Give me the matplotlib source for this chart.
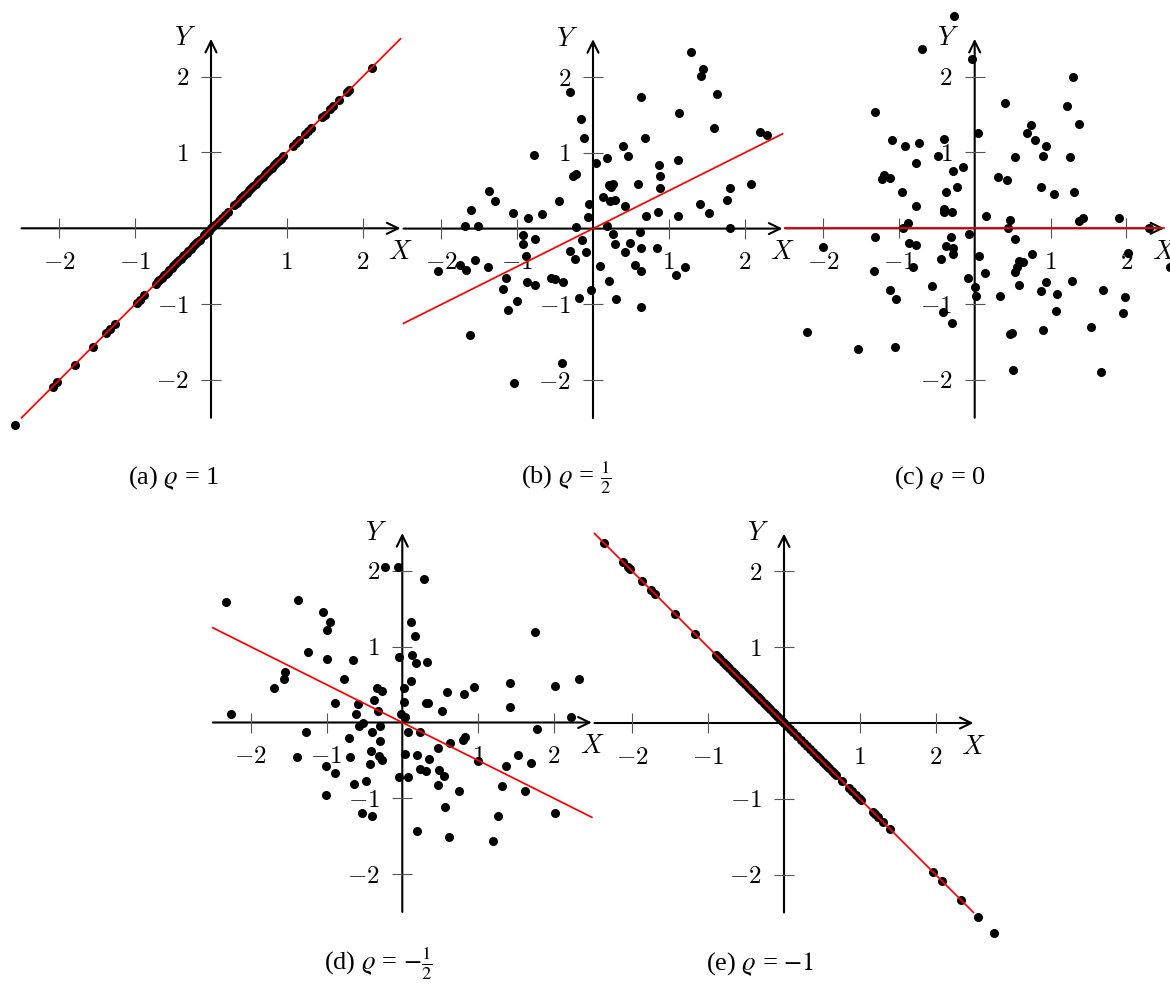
import matplotlib
matplotlib.use('Agg')
import matplotlib.pyplot as plt
import numpy as np

plt.rcParams['mathtext.fontset'] = 'cm'
plt.rcParams['font.family'] = ['Liberation Serif', 'DejaVu Serif']

# ---------------- data ----------------
rho_values = [1.0, 0.5, 0.0, -0.5, -1.0]
captions = [r'(a) $\varrho$ = 1', r'(b) $\varrho$ = $\frac{1}{2}$', r'(c) $\varrho$ = 0',
            r'(d) $\varrho$ = $-\frac{1}{2}$', r'(e) $\varrho$ = $-1$']
tick_values = [-2, -1, 1, 2]
tick_labels = [r'$-2$', r'$-1$', r'$1$', r'$2$']

a_x = [-2.59, -2.09, -2.03, -1.80, -1.56, -1.38, -1.33, -1.26, -0.98, -0.94, -0.88,
       -0.73, -0.70, -0.68, -0.65, -0.62, -0.60, -0.57, -0.55, -0.52, -0.50, -0.47, -0.45,
       -0.42, -0.40, -0.37, -0.35, -0.32, -0.30, -0.27, -0.24, -0.21, -0.18, -0.15,
       -0.09, -0.06, -0.03, 0.00, 0.03, 0.06, 0.10, 0.14, 0.18, 0.22,
       0.31, 0.34, 0.38, 0.41, 0.44, 0.47, 0.50, 0.53, 0.56, 0.59, 0.62, 0.65, 0.68,
       0.71, 0.74, 0.77, 0.80, 0.83, 0.86, 0.89, 0.92, 0.95,
       1.08, 1.12, 1.16, 1.24, 1.28, 1.32, 1.47, 1.50, 1.57, 1.61, 1.69, 1.80, 1.82, 2.12]
a_y = [-2.59, -2.09, -2.03, -1.80, -1.56, -1.38, -1.33, -1.26, -0.98, -0.94, -0.88,
       -0.73, -0.70, -0.68, -0.65, -0.62, -0.60, -0.57, -0.55, -0.52, -0.50, -0.47, -0.45,
       -0.42, -0.40, -0.37, -0.35, -0.32, -0.30, -0.27, -0.24, -0.21, -0.18, -0.15,
       -0.09, -0.06, -0.03, 0.00, 0.03, 0.06, 0.10, 0.14, 0.18, 0.22,
       0.31, 0.34, 0.38, 0.41, 0.44, 0.47, 0.50, 0.53, 0.56, 0.59, 0.62, 0.65, 0.68,
       0.71, 0.74, 0.77, 0.80, 0.83, 0.86, 0.89, 0.92, 0.95,
       1.08, 1.12, 1.16, 1.24, 1.28, 1.32, 1.47, 1.50, 1.57, 1.61, 1.69, 1.80, 1.82, 2.12]

b_x = [-0.31, -0.16, -0.12, -0.78, 0.04, -0.26, -0.22, -1.37, -1.29, -0.45, -0.05, -1.61,
       -1.06, -0.86, -0.67, -0.07, -1.69, -1.52, -0.22, -0.93, -0.92, -0.76, -0.14, -0.31,
       -0.09, -0.89, -0.24, 0.09, -2.05, -1.75, -1.68, -1.56, -1.38, -1.15, -1.19, -1.12,
       -1.00, -0.87, -0.77, -0.55, -0.50, -0.40, -0.18, -0.02, -1.62, -0.41, -1.04,
       1.29, 1.45, 1.43, 1.63, 0.63, 1.13, 1.60, 0.68, 2.20, 2.29, 0.39, 0.46, 0.19, 1.12,
       0.87, 0.885, 0.885, 0.60, 0.21, 0.27, 0.24, 0.13, 0.22, 0.29, 0.42, 1.81, 2.08, 1.77,
       1.41, 1.53, 0.86, 0.70, 1.12, 1.81, 0.19, 0.26, 0.62, 0.29, 0.49, 0.42, 0.63, 0.84,
       0.55, 0.63, 1.21, 1.09, 0.21, 0.31, 0.63]
b_y = [1.80, 1.45, 1.19, 0.97, 0.87, 0.70, 0.72, 0.49, 0.37, 0.37, 0.33, 0.25,
       0.20, 0.14, 0.19, 0.15, 0.03, 0.04, 0.02, -0.08, -0.20, -0.14, -0.15, -0.30,
       -0.31, -0.36, -0.40, -0.49, -0.56, -0.48, -0.55, -0.42, -0.51, -0.65, -0.80, -1.07,
       -0.95, -0.71, -0.75, -0.65, -0.67, -0.71, -0.91, -0.81, -1.41, -1.77, -2.04,
       2.33, 2.11, 2.01, 1.78, 1.73, 1.53, 1.33, 1.19, 1.27, 1.23, 1.09, 0.96, 0.93, 0.90,
       0.84, 0.69, 0.53, 0.59, 0.57, 0.59, 0.55, 0.42, 0.37, 0.38, 0.30, 0.54, 0.59, 0.38,
       0.33, 0.21, 0.22, 0.16, 0.16, 0.01, 0.04, -0.07, -0.05, -0.20, -0.19, -0.31, -0.26, -0.26,
       -0.48, -0.56, -0.50, -0.61, -0.69, -0.93, -1.03]

c_x = [-0.27, -0.69, -0.04, -1.32, 0.04, -1.09, -0.92, -0.73, -0.41, -0.48, -0.78, -0.16,
       -0.29, -1.20, -1.22, -1.12, -0.23, -0.38, -0.96, -0.78, -0.41, -0.41, -0.30, -0.88,
       -0.94, -1.31, -0.87, -0.77, -0.31, -0.08, -0.38, -0.28, -0.28, -0.44, -0.82, -2.00,
       -1.33, 0.06, -0.09, 0.00, 0.02, -1.12, -1.04, -0.56, -0.42, -0.30, -2.21, -1.54, -1.05,
       1.30, 0.40, 1.22, 1.37, 0.74, 0.69, 0.80, 0.94, 0.90, 0.53, 1.26, 0.31, 0.42, 0.87,
       1.05, 1.31, 0.15, 0.47, 0.44, 1.37, 1.43, 1.90, 2.30, 2.57, 0.53, 0.75, 0.58, 0.64,
       0.56, 0.53, 0.13, 0.59, 0.94, 1.29, 0.87, 1.09, 0.34, 1.69, 1.98, 1.96, 1.07, 0.90,
       0.47, 0.49, 1.54, 0.50, 1.66, 2.02]
c_y = [2.80, 2.36, 2.23, 1.53, 1.26, 1.16, 1.09, 1.12, 1.18, 0.96, 0.86, 0.81,
       0.75, 0.70, 0.65, 0.67, 0.55, 0.48, 0.48, 0.30, 0.26, 0.21, 0.21, 0.07,
       0.01, -0.12, -0.19, -0.22, -0.12, -0.07, -0.24, -0.26, -0.34, -0.41, -0.51, -0.25,
       -0.56, -0.37, -0.66, -0.77, -0.89, -0.81, -0.93, -0.76, -1.11, -1.25, -1.37, -1.59, -1.56,
       2.00, 1.65, 1.61, 1.37, 1.36, 1.26, 1.17, 1.08, 0.95, 0.94, 0.94, 0.68, 0.64, 0.55,
       0.45, 0.48, 0.16, 0.11, 0.01, 0.09, 0.13, 0.13, 0.00, -0.51, -0.14, -0.34, -0.43, -0.44,
       -0.51, -0.58, -0.59, -0.75, -0.71, -0.70, -0.83, -0.87, -0.89, -0.81, -0.90, -1.12, -1.09, -1.34,
       -1.39, -1.38, -1.30, -1.87, -1.89, -0.33]

d_x = [-0.23, -0.06, -2.32, -1.38, -1.05, -0.95, -1.00, -1.24, -1.00, -0.65, -0.05, -1.55,
       -1.56, -1.69, -0.77, -0.34, -0.27, -0.89, -0.58, -0.37, -0.32, -0.61, -2.26, -0.57,
       -0.52, -0.30, -0.40, -1.27, -0.70, -0.30, -0.41, -0.31, -0.27, -0.69, -1.39, -0.42,
       -1.01, -0.89, -0.48, -0.64, -1.01, -0.53, -0.40,
       0.29, 0.11, 0.17, 0.13, 0.18, 0.33, 0.11, 0.02, 0.02, 0.31, 0.34, 0.59, 0.81, 0.94,
       0.52, 1.42, 1.75, 2.01, 2.33, 1.42, 2.22, -0.02, 0.04, 0.08, 0.23, 1.78, 0.63, 0.83,
       0.80, 0.47, 0.04, 0.19, 0.35, 1.00, 1.37, 1.53, 1.70, 0.24, 0.31, 0.48, 0.55, -0.04,
       0.07, 0.47, 0.75, 1.32, 1.62, 0.56, 1.26, 2.01, 0.20, 0.62, 1.20]
d_y = [2.05, 2.05, 1.59, 1.61, 1.46, 1.32, 1.22, 0.93, 0.84, 0.82, 0.87, 0.66,
       0.57, 0.46, 0.58, 0.45, 0.42, 0.26, 0.24, 0.30, 0.15, 0.11, 0.11, -0.04,
       -0.01, -0.04, -0.12, -0.13, -0.21, -0.25, -0.37, -0.44, -0.50, -0.46, -0.45, -0.55,
       -0.57, -0.67, -0.77, -0.81, -0.96, -1.19, -1.23,
       1.89, 1.32, 1.14, 0.89, 0.79, 0.80, 0.55, 0.46, 0.27, 0.26, 0.26, 0.40, 0.37, 0.47,
       0.15, 0.52, 1.19, 0.48, 0.57, 0.21, 0.07, 0.11, 0.07, -0.13, -0.13, -0.09, -0.27, -0.19,
       -0.23, -0.33, -0.41, -0.43, -0.48, -0.51, -0.57, -0.43, -0.53, -0.61, -0.64, -0.63, -0.71, -0.72,
       -0.72, -0.83, -0.90, -0.84, -0.90, -1.11, -1.23, -1.20, -1.43, -1.51, -1.56]

e_x = [-2.37, -2.12, -2.06, -2.03, -1.87, -1.76, -1.70, -1.44, -1.18, -0.90, -0.87,
       -0.84, -0.81, -0.78, -0.75, -0.72, -0.69, -0.66, -0.63, -0.60, -0.57, -0.54, -0.51,
       -0.48, -0.45, -0.42, -0.39, -0.36, -0.33, -0.30, -0.27, -0.24, -0.21, -0.18, -0.15,
       -0.12, -0.09, -0.06, -0.03, 0.00, 0.04, 0.08, 0.12, 0.17, 0.22, 0.26, 0.30, 0.34,
       0.38, 0.42, 0.45, 0.48, 0.51, 0.54, 0.57, 0.60, 0.63, 0.66, 0.69, 0.77, 0.86, 0.90,
       0.95, 0.99, 1.02, 1.17, 1.20, 1.24, 1.31, 1.40, 1.97, 2.08, 2.33, 2.56, 2.77]
e_y = [2.37, 2.12, 2.06, 2.03, 1.87, 1.76, 1.70, 1.44, 1.18, 0.90, 0.87,
       0.84, 0.81, 0.78, 0.75, 0.72, 0.69, 0.66, 0.63, 0.60, 0.57, 0.54, 0.51,
       0.48, 0.45, 0.42, 0.39, 0.36, 0.33, 0.30, 0.27, 0.24, 0.21, 0.18, 0.15,
       0.12, 0.09, 0.06, 0.03, 0.00, -0.04, -0.08, -0.12, -0.17, -0.22, -0.26, -0.30, -0.34,
       -0.38, -0.42, -0.45, -0.48, -0.51, -0.54, -0.57, -0.60, -0.63, -0.66, -0.69, -0.77, -0.86, -0.90,
       -0.95, -0.99, -1.02, -1.17, -1.20, -1.24, -1.31, -1.40, -1.97, -2.08, -2.33, -2.56, -2.77]

# ---------------- layout (pixels) ----------------
W, H = 1170, 992
UNIT = 75.8
LIM = 2.5
origins = [(211.0, 228.3), (593.0, 228.6), (974.7, 228.3), (402.3, 722.5), (784.0, 723.0)]
caption_pos = [(174.0, 484.0), (566.0, 484.0), (940.0, 484.0), (378.0, 970.0), (760.0, 970.0)]

fig = plt.figure(figsize=(W / 100, H / 100), dpi=100)

series = [(a_x, a_y), (b_x, b_y), (c_x, c_y), (d_x, d_y), (e_x, e_y)]

for (ox, oy), (xs, ys), rho, cap, (cx, cy) in zip(origins, series, rho_values, captions, caption_pos):
    half = LIM * UNIT
    rect = [(ox - half) / W, (H - oy - half) / H, 2 * half / W, 2 * half / H]
    ax = fig.add_axes(rect)
    ax.set_xlim(-LIM, LIM)
    ax.set_ylim(-LIM, LIM)
    ax.patch.set_alpha(0)
    for s in ['top', 'right']:
        ax.spines[s].set_visible(False)
    ax.spines['left'].set_position(('data', 0))
    ax.spines['bottom'].set_position(('data', 0))
    ax.spines['left'].set_color('none')
    ax.spines['bottom'].set_color('none')
    ax.set_xticks(tick_values)
    ax.set_yticks(tick_values)
    ax.set_xticklabels(tick_labels)
    ax.set_yticklabels(tick_labels)
    ax.tick_params(axis='both', direction='inout', length=14, width=0.8, color='#555555',
                   labelsize=18)
    ax.tick_params(axis='x', pad=10)
    ax.tick_params(axis='y', pad=9)

    arrow = dict(arrowstyle='->,head_length=0.45,head_width=0.22', lw=1.5, color='black',
                 shrinkA=0, shrinkB=0, mutation_scale=18)
    ax.annotate('', xy=(LIM, 0), xytext=(-LIM, 0), arrowprops=arrow,
                annotation_clip=False, zorder=1)
    ax.annotate('', xy=(0, LIM), xytext=(0, -LIM), arrowprops=arrow,
                annotation_clip=False, zorder=1)

    ax.plot(xs, ys, 'o', color='black', ms=6.5, mew=0, clip_on=False, zorder=3)
    lx = np.array([-LIM, LIM])
    ax.plot(lx, rho * lx, color='red', lw=1.25, clip_on=False, zorder=4)

    ax.annotate('$X$', xy=(LIM, 0), xytext=(0, -17.5), textcoords='offset points',
                ha='center', va='center', fontsize=19, annotation_clip=False)
    ax.annotate('$Y$', xy=(0, LIM), xytext=(-19, 0), textcoords='offset points',
                ha='center', va='center', fontsize=19, annotation_clip=False)

    fig.text(cx / W, 1 - cy / H, cap, ha='center', va='baseline', fontsize=19,
             math_fontfamily='stix')

fig.savefig('out.png', dpi=100)
